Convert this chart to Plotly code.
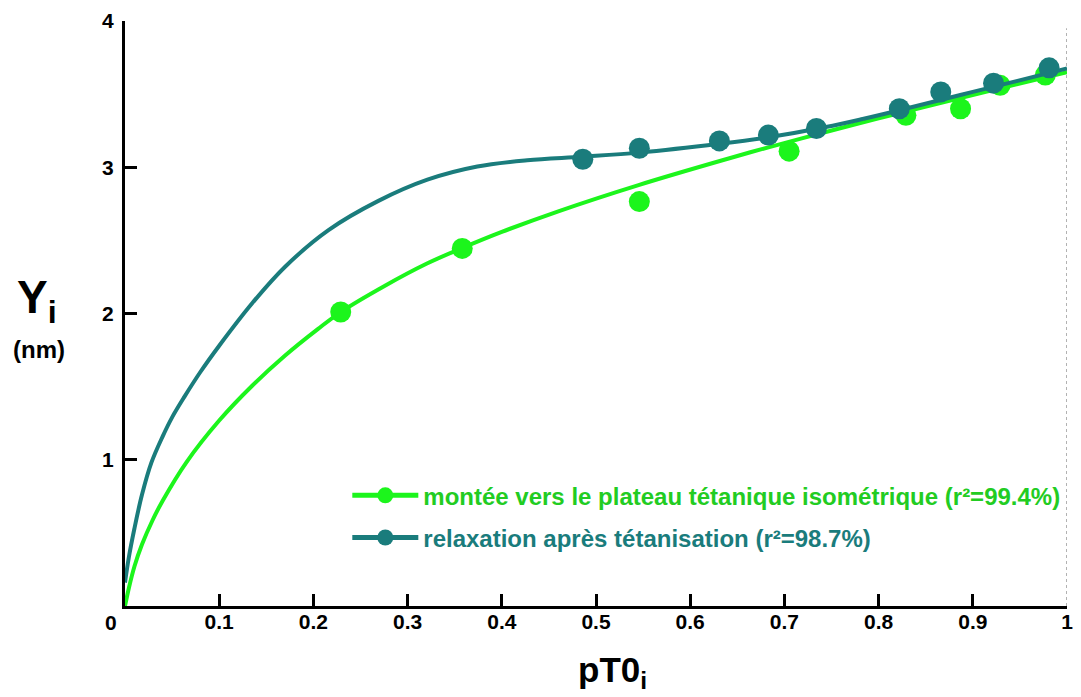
import plotly.graph_objects as go

# Measured points: mean myofilament displacement Y_i versus relative tension pT0_i
montee_x = [0.229, 0.358, 0.546, 0.705, 0.829, 0.887, 0.929, 0.977]
montee_y = [2.01, 2.445, 2.765, 3.11, 3.355, 3.40, 3.56, 3.63]

relax_x = [0.486, 0.546, 0.631, 0.683, 0.734, 0.822, 0.866, 0.922, 0.981]
relax_y = [3.055, 3.13, 3.18, 3.22, 3.265, 3.40, 3.515, 3.575, 3.68]

# Fitted curves, sampled along their length
fit_montee_x = [0, 0.004, 0.01, 0.018, 0.029, 0.04, 0.065, 0.10, 0.135, 0.17,
                0.205, 0.229, 0.276, 0.32, 0.358, 0.40, 0.46, 0.546, 0.638,
                0.684, 0.744, 0.8, 0.86, 0.93, 1.0]
fit_montee_y = [0, 0.12, 0.27, 0.42, 0.583, 0.72, 0.981, 1.268, 1.506, 1.713,
                1.895, 2.01, 2.19, 2.34, 2.448, 2.558, 2.699, 2.88, 3.055,
                3.138, 3.241, 3.334, 3.431, 3.542, 3.65]

fit_relax_x = [0, 0.004, 0.01, 0.018, 0.028, 0.04, 0.05, 0.063, 0.08, 0.10,
               0.135, 0.17, 0.216, 0.269, 0.321, 0.374, 0.427, 0.486, 0.546,
               0.631, 0.683, 0.744, 0.783, 0.822, 0.9, 1.0]
fit_relax_y = [0.16, 0.33, 0.53, 0.76, 0.98, 1.16, 1.29, 1.43, 1.60, 1.78,
               2.07, 2.32, 2.57, 2.77, 2.915, 3.005, 3.048, 3.072, 3.10,
               3.16, 3.205, 3.275, 3.33, 3.39, 3.515, 3.675]

x_ticks = [0.1, 0.2, 0.3, 0.4, 0.5, 0.6, 0.7, 0.8, 0.9, 1.0]
x_tick_text = ["0.1", "0.2", "0.3", "0.4", "0.5", "0.6", "0.7", "0.8", "0.9", "1"]
y_ticks = [1, 2, 3, 4]
y_tick_text = ["1", "2", "3", "4"]

GREEN = "#1cf51c"
GREEN_TEXT = "#22cc22"
TEAL = "#1a7c7c"
FONT = "Liberation Sans"

label_montee = "montée vers le plateau tétanique isométrique (r²=99.4%)"
label_relax = "relaxation après tétanisation (r²=98.7%)"

fig = go.Figure()

fig.add_trace(go.Scatter(x=fit_montee_x, y=fit_montee_y, mode="lines",
                         line=dict(color=GREEN, width=4, shape="spline", smoothing=1.0),
                         showlegend=False, hoverinfo="skip"))
fig.add_trace(go.Scatter(x=montee_x, y=montee_y, mode="markers",
                         marker=dict(color=GREEN, size=21), showlegend=False))
fig.add_trace(go.Scatter(x=fit_relax_x, y=fit_relax_y, mode="lines",
                         line=dict(color=TEAL, width=4, shape="spline", smoothing=1.0),
                         showlegend=False, hoverinfo="skip"))
fig.add_trace(go.Scatter(x=relax_x, y=relax_y, mode="markers",
                         marker=dict(color=TEAL, size=21), showlegend=False))

# Legend entries (line + marker symbol)
fig.add_trace(go.Scatter(x=[None], y=[None], mode="lines+markers",
                         line=dict(color=GREEN, width=5), marker=dict(color=GREEN, size=21),
                         name=f"<span style='color:{GREEN_TEXT}'>{label_montee}</span>",
                         legendgroup="a"))
fig.add_trace(go.Scatter(x=[None], y=[None], mode="lines+markers",
                         line=dict(color=TEAL, width=5), marker=dict(color=TEAL, size=21),
                         name=f"<span style='color:{TEAL}'>{label_relax}</span>",
                         legendgroup="b"))

tick_font = dict(family=FONT, size=21, weight="bold", color="black")

fig.update_layout(
    width=1081, height=697,
    margin=dict(l=125, r=8, t=21, b=91),
    paper_bgcolor="white", plot_bgcolor="white",
    font=dict(family=FONT, color="black"),
    showlegend=True,
    legend=dict(x=0.236, y=0.227, xanchor="left", yanchor="top",
                bgcolor="rgba(0,0,0,0)", itemwidth=66, tracegroupgap=8,
                font=dict(family=FONT, size=24, weight="bold")),
    xaxis=dict(range=[0, 1], tickvals=x_ticks, ticktext=x_tick_text,
               showgrid=False, zeroline=False, showline=True, linecolor="black",
               linewidth=3, ticks="inside", ticklen=12, tickwidth=3, tickcolor="black",
               ticklabelstandoff=-5, tickfont=tick_font),
    yaxis=dict(range=[0, 4], tickvals=y_ticks, ticktext=y_tick_text,
               showgrid=False, zeroline=False, showline=True, linecolor="black",
               linewidth=3, ticks="inside", ticklen=12, tickwidth=3, tickcolor="black",
               ticklabelstandoff=4, tickfont=tick_font),
    shapes=[dict(type="line", xref="x", yref="y", x0=1, x1=1, y0=0, y1=3.95,
                 line=dict(color="#999999", width=1.5, dash="dot"), layer="below")],
    annotations=[
        dict(text="0", x=0, y=0, xref="x", yref="y", showarrow=False,
             xshift=-14, yshift=-16, font=tick_font),
        dict(text="Y<sub>i</sub>", xref="paper", yref="paper", x=0, y=0.523,
             xanchor="left", yanchor="middle", xshift=-110, showarrow=False,
             font=dict(family=FONT, size=46, weight="bold", color="black")),
        dict(text="(nm)", xref="paper", yref="paper", x=0, y=0.438,
             xanchor="left", yanchor="middle", xshift=-114, showarrow=False,
             font=dict(family=FONT, size=24, weight="bold", color="black")),
        dict(text="pT0<sub>i</sub>", xref="paper", yref="paper", x=0.479, y=0,
             xanchor="left", yanchor="bottom", yshift=-90, showarrow=False,
             font=dict(family=FONT, size=35, weight="bold", color="black")),
    ],
)

fig.write_html("out.html")
